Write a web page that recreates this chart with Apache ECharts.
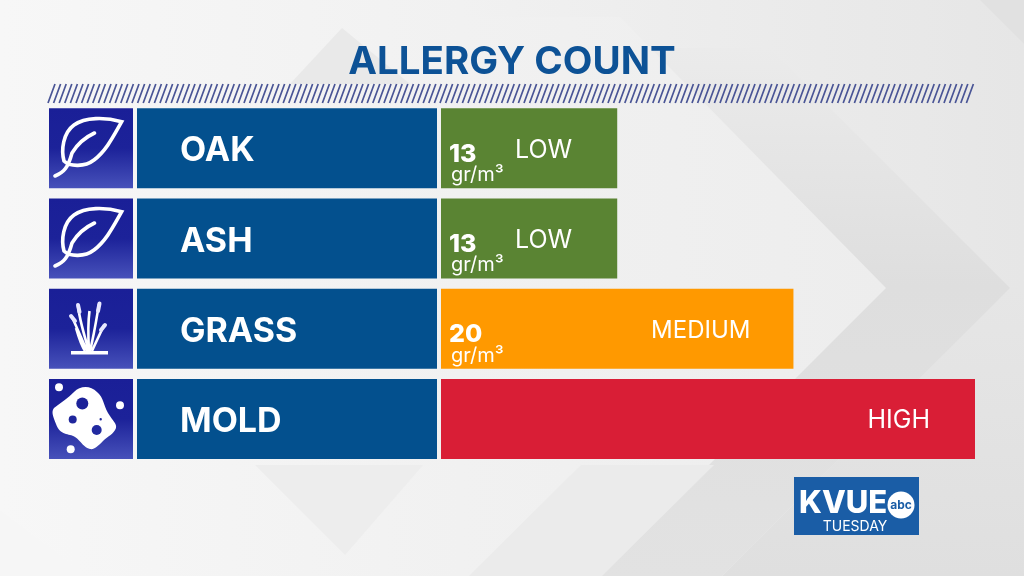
<!DOCTYPE html>
<html>
<head>
<meta charset="utf-8">
<style>html,body{margin:0;padding:0;background:#e8e8e8}#chart{width:1024px;height:576px}</style>
<script src="https://cdn.jsdelivr.net/npm/echarts@6/dist/echarts.min.js"></script>
</head>
<body>
<div id="chart"></div>
<script>
"use strict";

const CATEGORIES = ["OAK", "ASH", "GRASS", "MOLD"];
const LEVEL_NAMES = ["LOW", "LOW", "MEDIUM", "HIGH"];
// bar length on a 3-step scale
const LEVELS = [0.99, 0.99, 1.98, 3];
const COUNTS = [13, 13, 20, null];
const LEVEL_COLORS = ["#5a8433", "#5a8433", "#ff9900", "#d91e36"];
const FILL = [1, 1, 1, 1]; // name and icon panels span their whole grid

const FONT = 'Inter, "Open Sans", sans-serif';
const ROW_TOP = 103, ROWS_H = 361;

const LinearGradient = echarts.graphic.LinearGradient;

function grid(left, right) {
  return { left: left, width: right - left, top: ROW_TOP, height: ROWS_H };
}

function hiddenAxes(n, max) {
  return {
    x: { type: "value", gridIndex: n, min: 0, max: max, show: false },
    y: { type: "category", gridIndex: n, data: CATEGORIES, inverse: true, show: false },
  };
}

const AXES = [hiddenAxes(0, 1), hiddenAxes(1, 1), hiddenAxes(2, 3)];

// graphic has no plain svg path type here, so register each one as a shape
function svgShape(name, d, style) {
  echarts.graphic.registerShape(name, echarts.graphic.extendPath(d, {}));
  return { type: name, silent: true, style: style };
}

// ── 背景 ──
function poly(points, fill) {
  return { type: "polygon", silent: true, shape: { points: points }, style: { fill: fill } };
}

function background() {
  return [
    { type: "rect", silent: true, shape: { x: 0, y: 0, width: 1024, height: 576 },
      style: { fill: new LinearGradient(0, 0, 1, 0, [
        { offset: 0, color: "#f7f7f7" }, { offset: 0.45, color: "#f1f1f1" }, { offset: 1, color: "#e6e6e6" },
      ]) } },
    poly([[980, 0], [1024, 0], [1024, 44]], "#e1e1e1"),
    poly([[1010, 288], [1024, 288], [1024, 576], [722, 576]], new LinearGradient(0, 0, 0, 1, [
      { offset: 0, color: "#e6e6e6" }, { offset: 1, color: "#dfdfdf" },
    ])),
    poly([[770, 48], [1010, 288], [722, 576], [560, 576], [560, 48]], new LinearGradient(0, 0, 0, 1, [
      { offset: 0, color: "#ebebeb" }, { offset: 0.45, color: "#dedede" }, { offset: 1, color: "#e2e2e2" },
    ])),
    poly([[620, 17], [886, 288], [598, 576], [0, 576], [0, 17]], new LinearGradient(0, 0, 1, 0, [
      { offset: 0, color: "#f7f7f7" }, { offset: 0.52, color: "#f1f1f1" }, { offset: 1, color: "#ededed" },
    ])),
    poly([[290, 84], [342, 28], [410, 84]], "#e9e9e9"),
    poly([[581, 465], [714, 465], [602, 576], [469, 576]], "#ebebeb"),
    poly([[255, 465], [423, 465], [345, 555]], "#ededed"),
    poly([[0, 511], [87, 576], [0, 576]], "#f6f6f6"),
  ];
}

function hatch() {
  let d = "";
  for (let x = 48; x <= 969; x += 5.6) d += `M${x} 103L${x + 7} 84`;
  return svgShape("hatchBar", d, { fill: null, stroke: "#4a5596", lineWidth: 1.7 });
}

// ── 图标 ──
function leaf(name, dy) {
  const y = v => v + dy;
  const d = `M121.7 ${y(121.7)}C105 ${y(117)} 85 ${y(117)} 74 ${y(125)}C63 ${y(133)} 61 ${y(150)} 64 ${y(161)}`
    + `C70 ${y(167)} 85 ${y(167)} 94 ${y(160)}C106 ${y(151)} 113 ${y(137)} 121.7 ${y(121.7)}Z`
    + `M55 ${y(176)}C64 ${y(172)} 68 ${y(168)} 72 ${y(153)}C78 ${y(143)} 88 ${y(136)} 94.5 ${y(133)}`;
  return svgShape(name, d, { fill: null, stroke: "#fff", lineWidth: 3.6, lineCap: "round" });
}

function grassIcon() {
  const blades = "M89 351C84 335 80 322 78 306M89 351C88 335 88 322 89.5 311M90 351C94 335 96 322 99 304"
    + "M87 351C82 340 78 330 72 317M92 351C96 342 100 334 104 325M85 351C81 345 78 335 76 328";
  const tips = "M78 305L79.5 312M99.5 303.5L98 311M71 316L75 321M105 325L101 330";
  return [
    { type: "line", silent: true, shape: { x1: 71, y1: 352.7, x2: 108, y2: 352.7 }, style: { stroke: "#fff", lineWidth: 3.5 } },
    svgShape("grassBlades", blades, { fill: null, stroke: "#fff", lineWidth: 2.6 }),
    svgShape("grassTips", tips, { fill: null, stroke: "#e8e8ff", lineWidth: 4, lineCap: "round" }),
  ];
}

function dot(cx, cy, r, fill) {
  return { type: "circle", silent: true, shape: { cx: cx, cy: cy, r: r }, style: { fill: fill } };
}

function moldIcon() {
  const blob = "M54 408C62 402 68 398 74 392C80 386 90 385 97 392C104 398 103 404 108 413"
    + "C113 421 117 424 116 428C114 434 108 436 103 441C98 446 94 450 90 449"
    + "C84 448 81 441 75 437C69 433 60 436 56 424C53 416 51 412 54 408Z";
  return [
    svgShape("moldBlob", blob, { fill: "#fff" }),
    dot(82.3, 403.5, 6, "#1c2299"),
    dot(72.7, 419.5, 4, "#1f269c"),
    dot(96.7, 430, 5, "#222aa0"),
    dot(100.7, 419.3, 1.2, "#1f269c"),
    dot(59, 387.3, 4, "#fff"),
    dot(120, 405.3, 4, "#fff"),
    dot(70.7, 449.3, 4, "#fff"),
  ];
}

// ── 台标 ──
function logo() {
  return [
    { type: "rect", silent: true, shape: { x: 794, y: 477, width: 125, height: 58 }, style: { fill: "#1a5da6" } },
    { type: "text", silent: true, style: { text: "KVUE", x: 799, y: 504, verticalAlign: "middle", fill: "#fff", font: '800 31px ' + FONT } },
    dot(901, 505, 13.5, "#fff"),
    { type: "text", silent: true, style: { text: "abc", x: 901, y: 505, align: "center", verticalAlign: "middle", fill: "#1a5da6", font: '700 12px ' + FONT } },
    { type: "text", silent: true, style: { text: "TUESDAY", x: 855, y: 527, align: "center", verticalAlign: "middle", fill: "#fff", font: '400 14px ' + FONT } },
  ];
}

const iconGradient = new LinearGradient(0, 0, 0, 1, [
  { offset: 0, color: "#1a1f97" }, { offset: 0.5, color: "#1c2299" }, { offset: 1, color: "#4751ba" },
]);

const overlay = [hatch(), leaf("leafA", 0), leaf("leafB", 90), ...grassIcon(), ...moldIcon(), ...logo()]
  .map(el => ({ ...el, z: 10 }));

const chart = echarts.init(document.getElementById("chart"), null, { renderer: "canvas" });
chart.setOption({
  animation: false,
  title: {
    text: "ALLERGY COUNT", left: 507, top: 38, textAlign: "center",
    textStyle: { color: "#0d5296", fontFamily: FONT, fontWeight: 700, fontSize: 38.5 },
  },
  grid: [grid(49, 133), grid(137, 437), grid(441, 975)],
  xAxis: AXES.map(a => a.x),
  yAxis: AXES.map(a => a.y),
  series: [
    {
      type: "bar", xAxisIndex: 0, yAxisIndex: 0, data: FILL, barWidth: 80, silent: true,
      itemStyle: { color: iconGradient },
    },
    {
      type: "bar", xAxisIndex: 1, yAxisIndex: 1, data: FILL, barWidth: 80, silent: true,
      itemStyle: { color: "#03508e" },
      label: {
        show: true, position: "insideLeft", distance: 43, offset: [0, 3], formatter: p => p.name,
        color: "#fff", fontFamily: FONT, fontWeight: 700, fontSize: 34,
      },
    },
    {
      name: "level", type: "bar", xAxisIndex: 2, yAxisIndex: 2, barWidth: 80, silent: true,
      data: LEVELS.map((v, i) => ({
        value: v,
        itemStyle: { color: LEVEL_COLORS[i] },
        // MEDIUM runs wider in this font than on the original
        label: LEVEL_NAMES[i] === "MEDIUM" ? { fontSize: 24, distance: 43 } : {},
      })),
      label: {
        show: true, position: "insideRight", distance: 45, offset: [0, 2],
        formatter: p => LEVEL_NAMES[p.dataIndex],
        color: "#fff", fontFamily: FONT, fontSize: 25,
      },
    },
    {
      name: "count", type: "bar", xAxisIndex: 2, yAxisIndex: 2, barWidth: 80, barGap: "-100%", silent: true,
      data: LEVELS.map((v, i) => (COUNTS[i] == null ? null : v)),
      itemStyle: { color: "transparent" },
      label: {
        show: true, position: "insideLeft", distance: 8, offset: [0, 16],
        formatter: p => `{n|${COUNTS[p.dataIndex]}}\n{u|gr/m³}`,
        rich: {
          n: { color: "#fff", fontFamily: FONT, fontWeight: 800, fontSize: 25, lineHeight: 22 },
          u: { color: "#fff", fontFamily: FONT, fontSize: 20, lineHeight: 20, padding: [0, 0, 0, 2] },
        },
      },
    },
  ],
  graphic: { elements: [
    { type: "group", silent: true, children: background() },
    { type: "group", silent: true, children: overlay },
  ] },
});
</script>
</body>
</html>
